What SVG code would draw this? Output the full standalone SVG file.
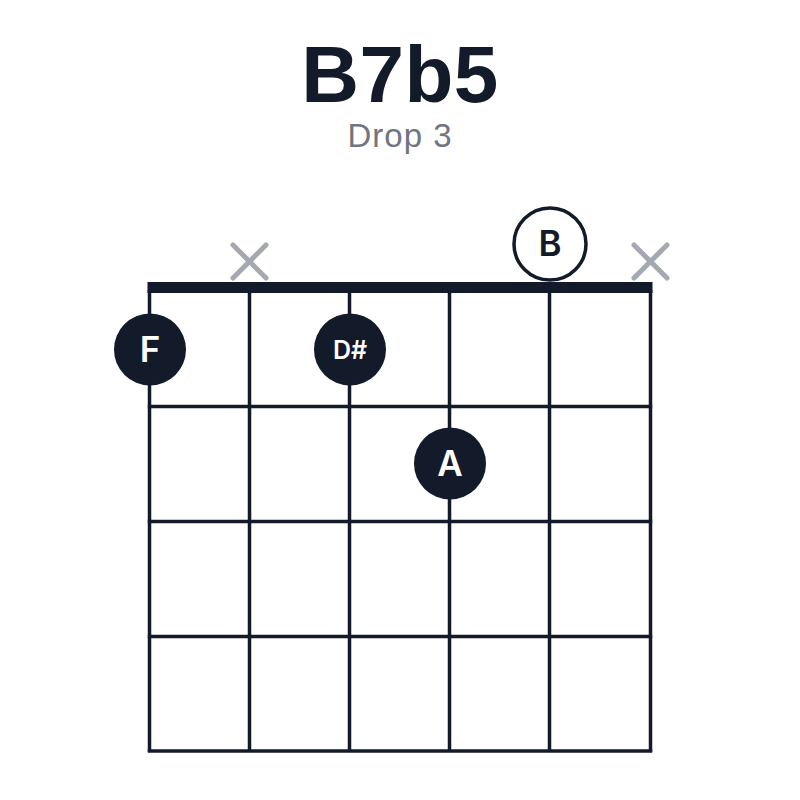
<svg xmlns="http://www.w3.org/2000/svg" width="800" height="800" viewBox="0 0 800 800">
<style>
.title{font-family:"Liberation Sans",Arial,sans-serif;font-weight:bold;font-size:80px;fill:#131a29;text-anchor:middle;letter-spacing:0.5px}
.sub{font-family:"Liberation Sans",Arial,sans-serif;font-size:33px;fill:#70757f;text-anchor:middle;letter-spacing:1px}
.line{stroke:#131a29;stroke-width:3.5;fill:none}
.dot{fill:#131a29}
.dotlbl{font-family:Inter,"Liberation Sans",Arial,sans-serif;font-weight:600;fill:#ffffff;text-anchor:middle}
.open{fill:#ffffff;stroke:#131a29;stroke-width:3.5}
.openlbl{font-family:Inter,"Liberation Sans",Arial,sans-serif;font-weight:600;fill:#131a29;text-anchor:middle;font-size:35px}
.mute{stroke:#a4a8b0;stroke-width:5;stroke-linecap:round}
</style>
<rect width="800" height="800" fill="#ffffff"/>
<g id="title">
<text class="title" x="400" y="102">B7b5</text>
<text class="sub" x="400" y="147">Drop 3</text>
</g>
<g id="grid">
<rect x="147.5" y="282" width="505" height="11" fill="#131a29"/>
<line class="line" x1="149.5" y1="290" x2="149.5" y2="752"/>
<line class="line" x1="249.5" y1="290" x2="249.5" y2="752"/>
<line class="line" x1="349.5" y1="290" x2="349.5" y2="752"/>
<line class="line" x1="449.5" y1="290" x2="449.5" y2="752"/>
<line class="line" x1="549.5" y1="290" x2="549.5" y2="752"/>
<line class="line" x1="650.5" y1="290" x2="650.5" y2="752"/>
<line class="line" x1="147.8" y1="406.5" x2="652.2" y2="406.5"/>
<line class="line" x1="147.8" y1="521.5" x2="652.2" y2="521.5"/>
<line class="line" x1="147.8" y1="636.5" x2="652.2" y2="636.5"/>
<line class="line" x1="147.8" y1="751" x2="652.2" y2="751"/>
</g>
<g id="mute-5">
<line class="mute" x1="233" y1="245" x2="266" y2="278"/>
<line class="mute" x1="266" y1="245" x2="233" y2="278"/>
</g>
<g id="mute-1">
<line class="mute" x1="634" y1="245" x2="667" y2="278"/>
<line class="mute" x1="667" y1="245" x2="634" y2="278"/>
</g>
<g id="open-B">
<circle class="open" cx="550" cy="244" r="36"/>
<text class="openlbl" x="550" y="256">B</text>
</g>
<g id="note-F">
<circle class="dot" cx="150" cy="349.5" r="36"/>
<text class="dotlbl" x="150" y="362" font-size="35">F</text>
</g>
<g id="note-Ds">
<circle class="dot" cx="350" cy="349.5" r="36"/>
<text class="dotlbl" x="350" y="359" font-size="25">D#</text>
</g>
<g id="note-A">
<circle class="dot" cx="450" cy="463.5" r="36"/>
<text class="dotlbl" x="450" y="476" font-size="35">A</text>
</g>
</svg>
